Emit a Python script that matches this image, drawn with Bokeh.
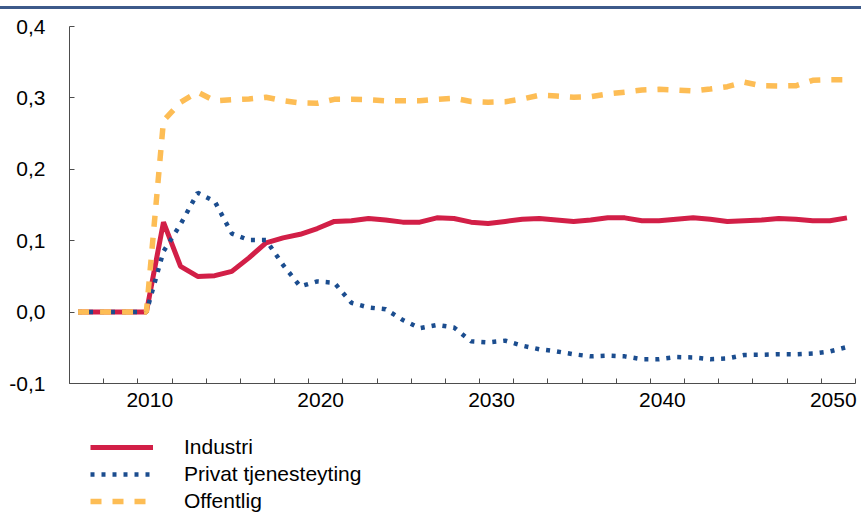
from bokeh.plotting import figure
from bokeh.models import (FixedTicker, CustomJSTickFormatter, Legend, LegendItem,
                          Range1d, Div)
from bokeh.layouts import column
from bokeh.embed import file_html
from bokeh.resources import INLINE

# ---- data -------------------------------------------------------------
years = list(range(2006, 2052))
industri = [0, 0, 0, 0, 0,
            0.126, 0.064, 0.050, 0.051, 0.057, 0.076, 0.097, 0.104, 0.109, 0.117,
            0.127, 0.128, 0.131, 0.129, 0.126, 0.126, 0.132, 0.131, 0.126, 0.124,
            0.127, 0.130, 0.131, 0.129, 0.127, 0.129, 0.132, 0.132, 0.128, 0.128,
            0.130, 0.132, 0.130, 0.127, 0.128, 0.129, 0.131, 0.130, 0.128, 0.128,
            0.132]
privat = [0, 0, 0, 0, 0,
          0.085, 0.123, 0.167, 0.155, 0.110, 0.101, 0.101, 0.066, 0.036, 0.043,
          0.041, 0.013, 0.0065, 0.004, -0.011, -0.0225, -0.018, -0.0215, -0.041, -0.0425,
          -0.040, -0.047, -0.052, -0.055, -0.059, -0.062, -0.061, -0.062, -0.066, -0.066,
          -0.063, -0.0635, -0.066, -0.065, -0.060, -0.0598, -0.059, -0.059, -0.058, -0.055,
          -0.049]
offentlig = [0, 0, 0, 0, 0,
             0.268, 0.294, 0.308, 0.296, 0.2975, 0.2985, 0.301, 0.296, 0.293, 0.2925,
             0.298, 0.298, 0.2975, 0.296, 0.296, 0.296, 0.298, 0.2995, 0.295, 0.294,
             0.2947, 0.2985, 0.3037, 0.3027, 0.301, 0.3017, 0.3055, 0.308, 0.311, 0.312,
             0.311, 0.3097, 0.3125, 0.3157, 0.322, 0.317, 0.3167, 0.317, 0.3247, 0.3255,
             0.3255]
series_names = ["Industri", "Privat tjenesteyting", "Offentlig"]
x_label_years = [2010, 2020, 2030, 2040, 2050]
y_ticks = [-0.1, 0.0, 0.1, 0.2, 0.3, 0.4]

# ---- styles -----------------------------------------------------------
FONT = "Liberation Sans"
FSIZE = "21px"
RED = "#d21f47"
BLUE = "#1b4d8f"
ORANGE = "#fdbd55"
AXIS = "#4d4d4d"
TOPBAR = "#3d5a8a"
W = 861

bar = Div(text="", width=W, height=3, margin=(6, 0, 0, 0),
          styles={"background-color": TOPBAR})

p = figure(width=W, height=414, output_backend="svg", toolbar_location=None,
           x_range=Range1d(2005.5, 2051.5), y_range=Range1d(-0.1, 0.4),
           min_border_left=69, min_border_right=6, min_border_top=17,
           min_border_bottom=40, title=None)
p.xgrid.visible = False
p.ygrid.visible = False
p.outline_line_color = None
p.background_fill_color = "white"
p.border_fill_color = "white"

xa = p.xaxis[0]
xa.ticker = FixedTicker(ticks=[y + 0.2 for y in x_label_years],
                        minor_ticks=[2005.5 + 2 * k for k in range(24)])
xa.formatter = CustomJSTickFormatter(code="return Math.round(tick).toString()")
xa.major_tick_in = 0
xa.major_tick_out = 0
xa.minor_tick_in = 5
xa.minor_tick_out = 0
xa.major_label_standoff = 9

ya = p.yaxis[0]
ya.ticker = FixedTicker(ticks=y_ticks)
ya.formatter = CustomJSTickFormatter(code="return tick.toFixed(1).replace('.', ',')")
ya.major_tick_in = 5
ya.major_tick_out = 0
ya.minor_tick_in = 0
ya.minor_tick_out = 0
ya.major_label_standoff = 24

for ax in (xa, ya):
    ax.axis_line_color = AXIS
    ax.major_tick_line_color = AXIS
    ax.minor_tick_line_color = AXIS
    ax.major_label_text_font = FONT
    ax.major_label_text_font_size = FSIZE
    ax.major_label_text_color = "black"

line_styles = [dict(line_color=RED, line_width=5),
               dict(line_color=BLUE, line_width=4.5, line_dash="4 7"),
               dict(line_color=ORANGE, line_width=5.5, line_dash="11 11")]
series = [industri, privat, offentlig]

for vals, st in zip(series, line_styles):
    p.line(years, vals, **st)

# ---- legend panel below the chart ------------------------------------
# same series, drawn outside this panel's visible range: only legend keys show
lg = figure(width=W, height=90, output_backend="svg", toolbar_location=None,
            x_range=Range1d(0, 1), y_range=Range1d(0, 1),
            x_axis_location=None, y_axis_location=None,
            min_border_left=69, min_border_right=6, min_border_top=0,
            min_border_bottom=0, title=None)
lg.xgrid.visible = False
lg.ygrid.visible = False
lg.outline_line_color = None
lg_renderers = [lg.line(years, vals, **st) for vals, st in zip(series, line_styles)]

legend = Legend(
    items=[LegendItem(label=name, renderers=[r])
           for name, r in zip(series_names, lg_renderers)],
    location=(21, 0), orientation="vertical",
    glyph_width=63, glyph_height=24, label_height=24, spacing=3,
    padding=0, margin=0, label_standoff=31,
    border_line_color=None, background_fill_alpha=0,
    label_text_font=FONT, label_text_font_size=FSIZE, label_text_color="black")
lg.add_layout(legend, "center")

layout = column(bar, p, lg, spacing=0)
open("out.html", "w").write(file_html(layout, INLINE))
